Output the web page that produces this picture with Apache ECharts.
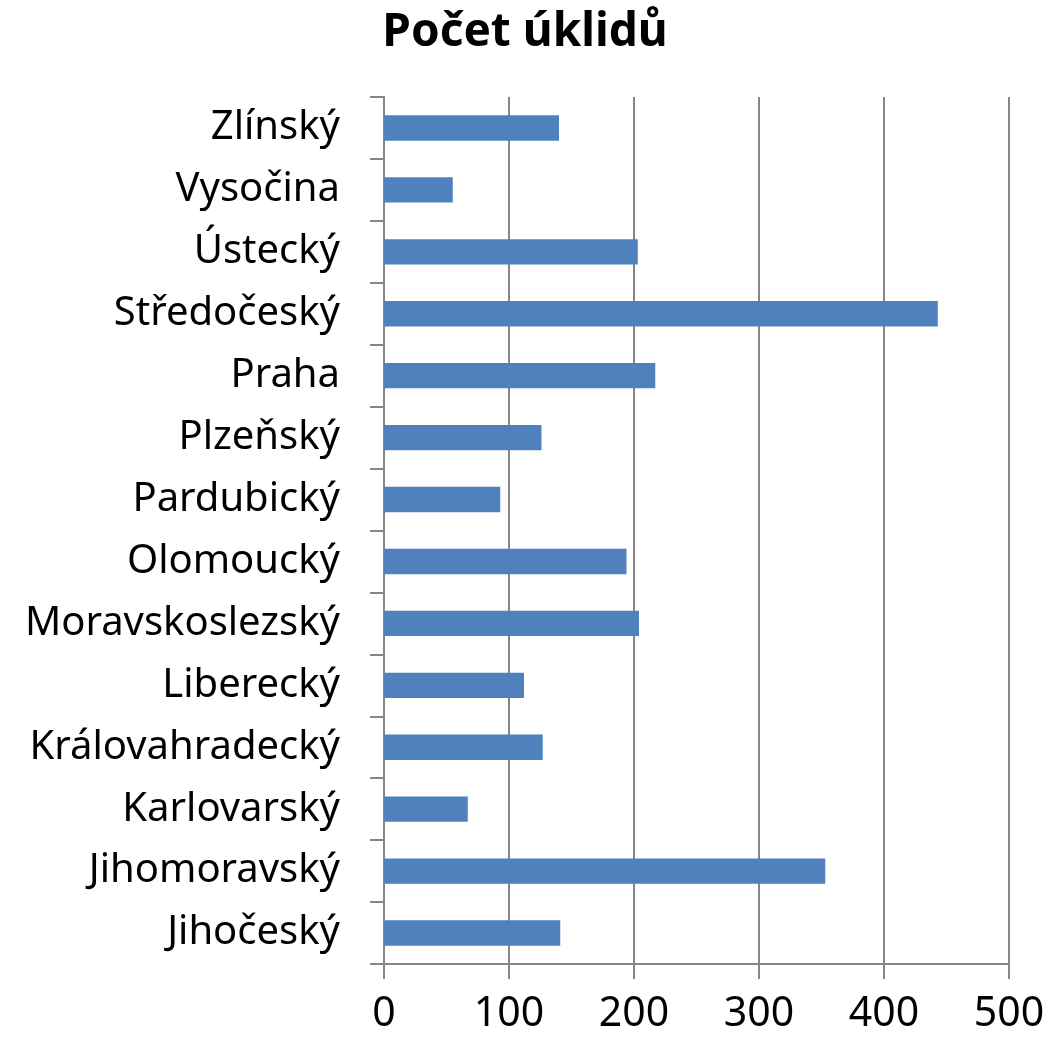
<!DOCTYPE html>
<html>
<head>
<meta charset="utf-8">
<script src="https://cdn.jsdelivr.net/npm/echarts@6/dist/echarts.min.js"></script>
<style>
  html, body { margin: 0; padding: 0; background: #fff; }
  #chart { width: 1050px; height: 1045px; }
</style>
</head>
<body>
<div id="chart"></div>
<script>
// kraje, odspodu nahoru
var regions = ['Jihočeský', 'Jihomoravský', 'Karlovarský', 'Královahradecký', 'Liberecký',
    'Moravskoslezský', 'Olomoucký', 'Pardubický', 'Plzeňský', 'Praha',
    'Středočeský', 'Ústecký', 'Vysočina', 'Zlínský'];
var cleanups = [141, 353, 67, 127, 112, 204, 194, 93, 126, 217, 443, 203, 55, 140];
var xTicks = [0, 100, 200, 300, 400, 500];

var myChart = echarts.init(document.getElementById('chart'));
var axisGray = '#868686';

myChart.setOption({
    animation: false,
    title: {
        text: 'Počet úklidů',
        left: 'center',
        top: 5,
        textStyle: {
            fontFamily: 'Noto Sans',
            fontSize: 46,
            fontWeight: 'bold',
            color: '#000'
        }
    },
    grid: {
        left: 384,
        right: 41,
        top: 97,
        bottom: 81,
        containLabel: false
    },
    xAxis: {
        type: 'value',
        min: xTicks[0],
        max: xTicks[xTicks.length - 1],
        interval: 100,
        axisLine: { show: true, lineStyle: { color: axisGray, width: 2 } },
        axisTick: { show: true, length: 15, lineStyle: { color: axisGray, width: 2 } },
        splitLine: { show: true, lineStyle: { color: axisGray, width: 2 } },
        axisLabel: {
            margin: 30,
            fontFamily: 'Noto Sans',
            fontSize: 41,
            color: '#000'
        }
    },
    yAxis: {
        type: 'category',
        data: regions,
        axisLine: { show: true, lineStyle: { color: axisGray, width: 2 } },
        axisTick: { show: true, length: 14, lineStyle: { color: axisGray, width: 2 } },
        axisLabel: {
            margin: 44,
            fontFamily: 'Noto Sans',
            fontSize: 40,
            color: '#000'
        }
    },
    series: [
        {
            name: 'Počet úklidů',
            type: 'bar',
            data: cleanups,
            barCategoryGap: '59%',
            itemStyle: { color: '#4f81bd' }
        }
    ]
});
</script>
</body>
</html>
